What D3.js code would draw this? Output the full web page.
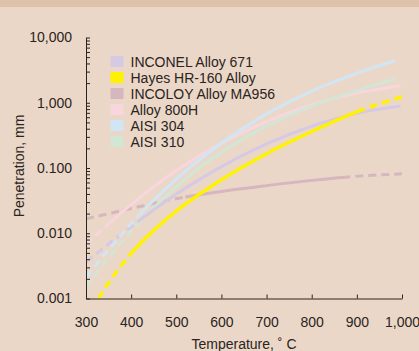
<!DOCTYPE html>
<html>
<head>
<meta charset="utf-8">
<script src="https://cdn.jsdelivr.net/npm/d3@7"></script>
<style>
  body { margin: 0; background: #ebd7c8; }
  text { font-family: "Liberation Sans", Arial, sans-serif; fill: #2a2420; }
</style>
</head>
<body>
<svg id="chart" width="419" height="351"></svg>
<script>
// Data (temperature in C, penetration in mm)
const seriesNames = ["INCONEL Alloy 671", "Hayes HR-160 Alloy", "INCOLOY Alloy MA956", "Alloy 800H", "AISI 304", "AISI 310"];
const seriesColors = ["#d5c9e3", "#fff200", "#d6b6bf", "#f9d6de", "#d0e6f5", "#d2e6d4"];

const inconelT = [300, 400, 500, 600, 700, 800, 900, 997];
const inconelV = [0.00363, 0.0126, 0.0398, 0.105, 0.234, 0.437, 0.692, 0.891];

const hayesT = [327, 350, 400, 450, 500, 600, 700, 800, 907, 1000];
const hayesV = [0.001, 0.00174, 0.0049, 0.011, 0.0219, 0.066, 0.166, 0.363, 0.759, 1.23];

const incoloyT = [300, 400, 500, 600, 700, 800, 874, 1000];
const incoloyV = [0.0166, 0.024, 0.0339, 0.0437, 0.0537, 0.0646, 0.0724, 0.0813];

const alloy800T = [300, 400, 500, 600, 700, 800, 900, 997];
const alloy800V = [0.00676, 0.0275, 0.0912, 0.24, 0.513, 0.933, 1.41, 1.82];

const aisi304T = [300, 350, 400, 500, 600, 700, 800, 900, 985];
const aisi304V = [0.00214, 0.0056, 0.0141, 0.0676, 0.24, 0.676, 1.51, 2.82, 4.4];

const aisi310T = [300, 400, 500, 600, 700, 800, 900, 985];
const aisi310V = [0.00155, 0.0107, 0.0513, 0.174, 0.437, 0.891, 1.55, 2.31];

// ranges drawn dashed (extrapolated parts)
const inconelDashed = [[300, 420]];
const hayesDashed = [[327, 405], [907, 1000]];
const incoloyDashed = [[300, 520], [874, 1000]];
const alloy800Dashed = [[300, 342]];
const aisi304Dashed = [[300, 412]];
const aisi310Dashed = [[300, 418]];

const xTicks = [300, 400, 500, 600, 700, 800, 900, 1000];
const xTickLabels = ["300", "400", "500", "600", "700", "800", "900", "1,000"];
const yMajor = [0.001, 0.01, 0.1, 1, 10];
const yMajorLabels = ["0.001", "0.010", "0.100", "1,000", "10,000"];

const series = [
	{ name: seriesNames[2], color: seriesColors[2], t: incoloyT, v: incoloyV, dashed: incoloyDashed },
	{ name: seriesNames[3], color: seriesColors[3], t: alloy800T, v: alloy800V, dashed: alloy800Dashed },
	{ name: seriesNames[5], color: seriesColors[5], t: aisi310T, v: aisi310V, dashed: aisi310Dashed },
	{ name: seriesNames[0], color: seriesColors[0], t: inconelT, v: inconelV, dashed: inconelDashed },
	{ name: seriesNames[4], color: seriesColors[4], t: aisi304T, v: aisi304V, dashed: aisi304Dashed },
	{ name: seriesNames[1], color: seriesColors[1], t: hayesT, v: hayesV, dashed: hayesDashed }
];

const svg = d3.select("#chart");
const W = 419, H = 351;

svg.append("rect").attr("width", W).attr("height", H).attr("fill", "#ebd7c8");
svg.append("rect").attr("width", W).attr("height", 7).attr("fill", "#dfc2aa");

const x = d3.scaleLinear().domain([300, 1000]).range([86, 402]);
const y = d3.scaleLog().domain([0.001, 10]).range([298.5, 37.5]);

const line = d3.line()
	.x(d => x(d[0]))
	.y(d => y(d[1]))
	.curve(d3.curveMonotoneX);

const defs = svg.append("defs");

series.forEach(function (s, i) {
	const pts = s.t.map((t, j) => [t, s.v[j]]);
	const tMin = s.t[0], tMax = s.t[s.t.length - 1];

	// solid parts = everything outside the dashed ranges
	let solid = [];
	let cur = tMin;
	s.dashed.forEach(function (r) {
		if (r[0] > cur) solid.push([cur, r[0]]);
		cur = Math.max(cur, r[1]);
	});
	if (cur < tMax) solid.push([cur, tMax]);

	function clipFor(ranges, id) {
		const cp = defs.append("clipPath").attr("id", id);
		ranges.forEach(function (r) {
			cp.append("rect")
				.attr("x", x(r[0]))
				.attr("y", 0)
				.attr("width", x(r[1]) - x(r[0]))
				.attr("height", H);
		});
	}
	clipFor(solid, "solid" + i);
	clipFor(s.dashed, "dash" + i);

	const w = s.color === "#fff200" ? 3.4 : 3;

	svg.append("path")
		.attr("d", line(pts))
		.attr("fill", "none")
		.attr("stroke", s.color)
		.attr("stroke-width", w)
		.attr("clip-path", "url(#solid" + i + ")");

	svg.append("path")
		.attr("d", line(pts))
		.attr("fill", "none")
		.attr("stroke", s.color)
		.attr("stroke-width", w)
		.attr("stroke-dasharray", "8,5")
		.attr("clip-path", "url(#dash" + i + ")");
});

// axes
const yTickVals = [];
[0.001, 0.01, 0.1, 1].forEach(function (p) {
	for (let k = 1; k < 10; k++) yTickVals.push(p * k);
});
yTickVals.push(10);

const yAxis = svg.append("g")
	.attr("transform", "translate(86,0)")
	.call(d3.axisLeft(y)
		.tickValues(yTickVals)
		.tickSizeInner(-4)
		.tickSizeOuter(0)
		.tickPadding(14)
		.tickFormat(function (d) {
			const idx = yMajor.findIndex(m => Math.abs(m - d) / m < 1e-6);
			return idx >= 0 ? yMajorLabels[idx] : "";
		}));

const xAxis = svg.append("g")
	.attr("transform", "translate(0,298.5)")
	.call(d3.axisBottom(x)
		.tickValues(xTicks)
		.tickSizeInner(-4)
		.tickSizeOuter(0)
		.tickPadding(19)
		.tickFormat((d, i) => xTickLabels[i]));

[yAxis, xAxis].forEach(function (g) {
	g.select(".domain").attr("stroke", "#2a2420").attr("stroke-width", 1);
	g.selectAll(".tick line").attr("stroke", "#2a2420").attr("stroke-width", 1);
	g.selectAll(".tick text")
		.attr("font-family", "Liberation Sans, Arial, sans-serif")
		.attr("font-size", 14)
		.attr("fill", "#2a2420");
});

svg.append("text")
	.attr("x", 244)
	.attr("y", 349)
	.attr("text-anchor", "middle")
	.attr("font-size", 14)
	.text("Temperature, ˚ C");

svg.append("text")
	.attr("transform", "translate(24,166) rotate(-90)")
	.attr("text-anchor", "middle")
	.attr("font-size", 14)
	.text("Penetration, mm");

// legend
const legend = svg.append("g").attr("transform", "translate(110.5,56)");
seriesNames.forEach(function (name, i) {
	legend.append("rect")
		.attr("x", 0)
		.attr("y", i * 16)
		.attr("width", 13)
		.attr("height", 11)
		.attr("fill", seriesColors[i]);
	legend.append("text")
		.attr("x", 20)
		.attr("y", i * 16 + 10.5)
		.attr("font-size", 14)
		.text(name);
});
</script>
</body>
</html>
